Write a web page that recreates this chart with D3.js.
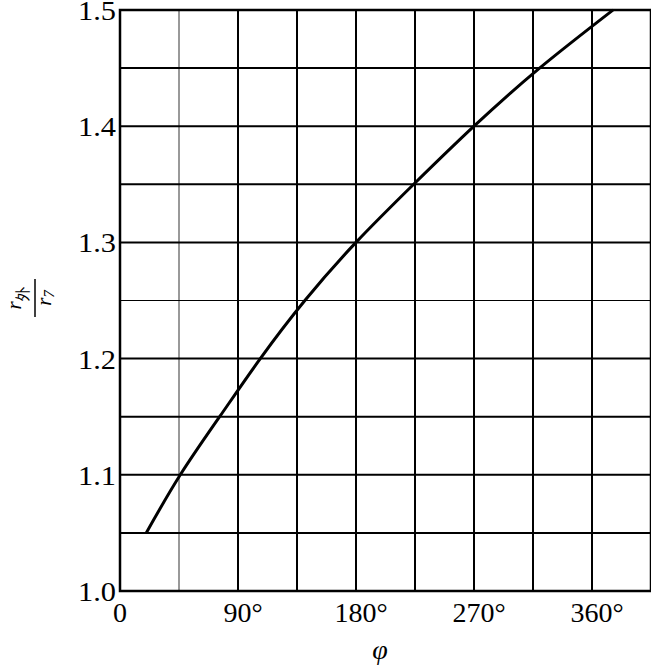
<!DOCTYPE html>
<html>
<head>
<meta charset="utf-8">
<script src="https://cdn.jsdelivr.net/npm/d3@7"></script>
<style>
  body { margin: 0; background: #fff; }
  text { font-family: "Liberation Serif", "Times New Roman", serif; fill: #000; }
</style>
</head>
<body>
<svg id="chart"></svg>
<script>
// curve: phi in degrees, ratio r外/r7
const phi   = [20, 46, 76, 107, 141, 180, 224, 270, 320, 376]
const ratio = [1.05, 1.10, 1.15, 1.20, 1.25, 1.30, 1.35, 1.40, 1.45, 1.50]

const xGrid = [45, 90, 135, 180, 225, 270, 315, 360]
const yGrid = [1.05, 1.10, 1.15, 1.20, 1.25, 1.30, 1.35, 1.40, 1.45]
const xTicks = [0, 90, 180, 270, 360]
const yTicks = [1.0, 1.1, 1.2, 1.3, 1.4, 1.5]
const thinX = [45]
const thinY = [1.25]

const w = 651, h = 667
const plotL = 120, plotR = 651, plotT = 10, plotB = 591

const svg = d3.select('#chart').attr('width', w).attr('height', h)

const x = d3.scaleLinear([0, 405], [plotL, plotR])
const y = d3.scaleLinear([1.0, 1.5], [plotB, plotT])

// grid
svg.append('g').selectAll('line')
  .data(xGrid)
  .join('line')
    .attr('x1', d => x(d)).attr('x2', d => x(d))
    .attr('y1', plotT).attr('y2', plotB)
    .attr('stroke', d => thinX.includes(d) ? '#555' : '#000')
    .attr('stroke-width', d => thinX.includes(d) ? 1.2 : 2)

svg.append('g').selectAll('line')
  .data(yGrid)
  .join('line')
    .attr('x1', plotL).attr('x2', plotR)
    .attr('y1', d => y(d)).attr('y2', d => y(d))
    .attr('stroke', '#000')
    .attr('stroke-width', d => thinY.includes(d) ? 1.2 : 2)

// frame
svg.append('rect')
  .attr('x', plotL).attr('y', plotT)
  .attr('width', plotR - plotL).attr('height', plotB - plotT)
  .attr('fill', 'none').attr('stroke', '#000').attr('stroke-width', 2.5)

// tick labels
svg.append('g').selectAll('text')
  .data(yTicks)
  .join('text')
    .attr('x', plotL - 4).attr('y', d => y(d))
    .attr('dy', '0.36em')
    .attr('text-anchor', 'end')
    .attr('font-size', 28)
    .attr('textLength', 38)
    .attr('lengthAdjust', 'spacingAndGlyphs')
    .text(d => d.toFixed(1))

svg.append('g').selectAll('text')
  .data(xTicks)
  .join('text')
    .attr('x', d => x(d) + (d === 0 ? 0 : 5)).attr('y', plotB + 31)
    .attr('text-anchor', 'middle')
    .attr('font-size', 28)
    .text(d => d === 0 ? '0' : d + '°')

// axis titles
svg.append('text')
  .attr('x', 380).attr('y', 659)
  .attr('text-anchor', 'middle')
  .attr('font-size', 28)
  .attr('font-style', 'italic')
  .text('φ')

const yl = svg.append('g').attr('transform', 'translate(35, 298) rotate(-90)')
yl.append('line')
  .attr('x1', -19).attr('x2', 19).attr('y1', 0).attr('y2', 0)
  .attr('stroke', '#000').attr('stroke-width', 1.5)
const num = yl.append('text').attr('x', 0).attr('y', -14).attr('text-anchor', 'middle').attr('font-size', 21)
num.append('tspan').attr('font-style', 'italic').text('r')
num.append('tspan').attr('font-size', 15).attr('dy', 7).attr('font-family', '"Noto Sans CJK SC"').text('外')
const den = yl.append('text').attr('x', 0).attr('y', 16).attr('text-anchor', 'middle').attr('font-size', 21)
den.append('tspan').attr('font-style', 'italic').text('r')
den.append('tspan').attr('font-size', 15).attr('dy', 3).attr('font-style', 'italic').text('7')

// curve
const pts = phi.map((p, i) => [p, ratio[i]])
svg.append('path')
  .datum(pts)
  .attr('fill', 'none')
  .attr('stroke', '#000')
  .attr('stroke-width', 3)
  .attr('d', d3.line().x(d => x(d[0])).y(d => y(d[1])).curve(d3.curveNatural))
</script>
</body>
</html>
